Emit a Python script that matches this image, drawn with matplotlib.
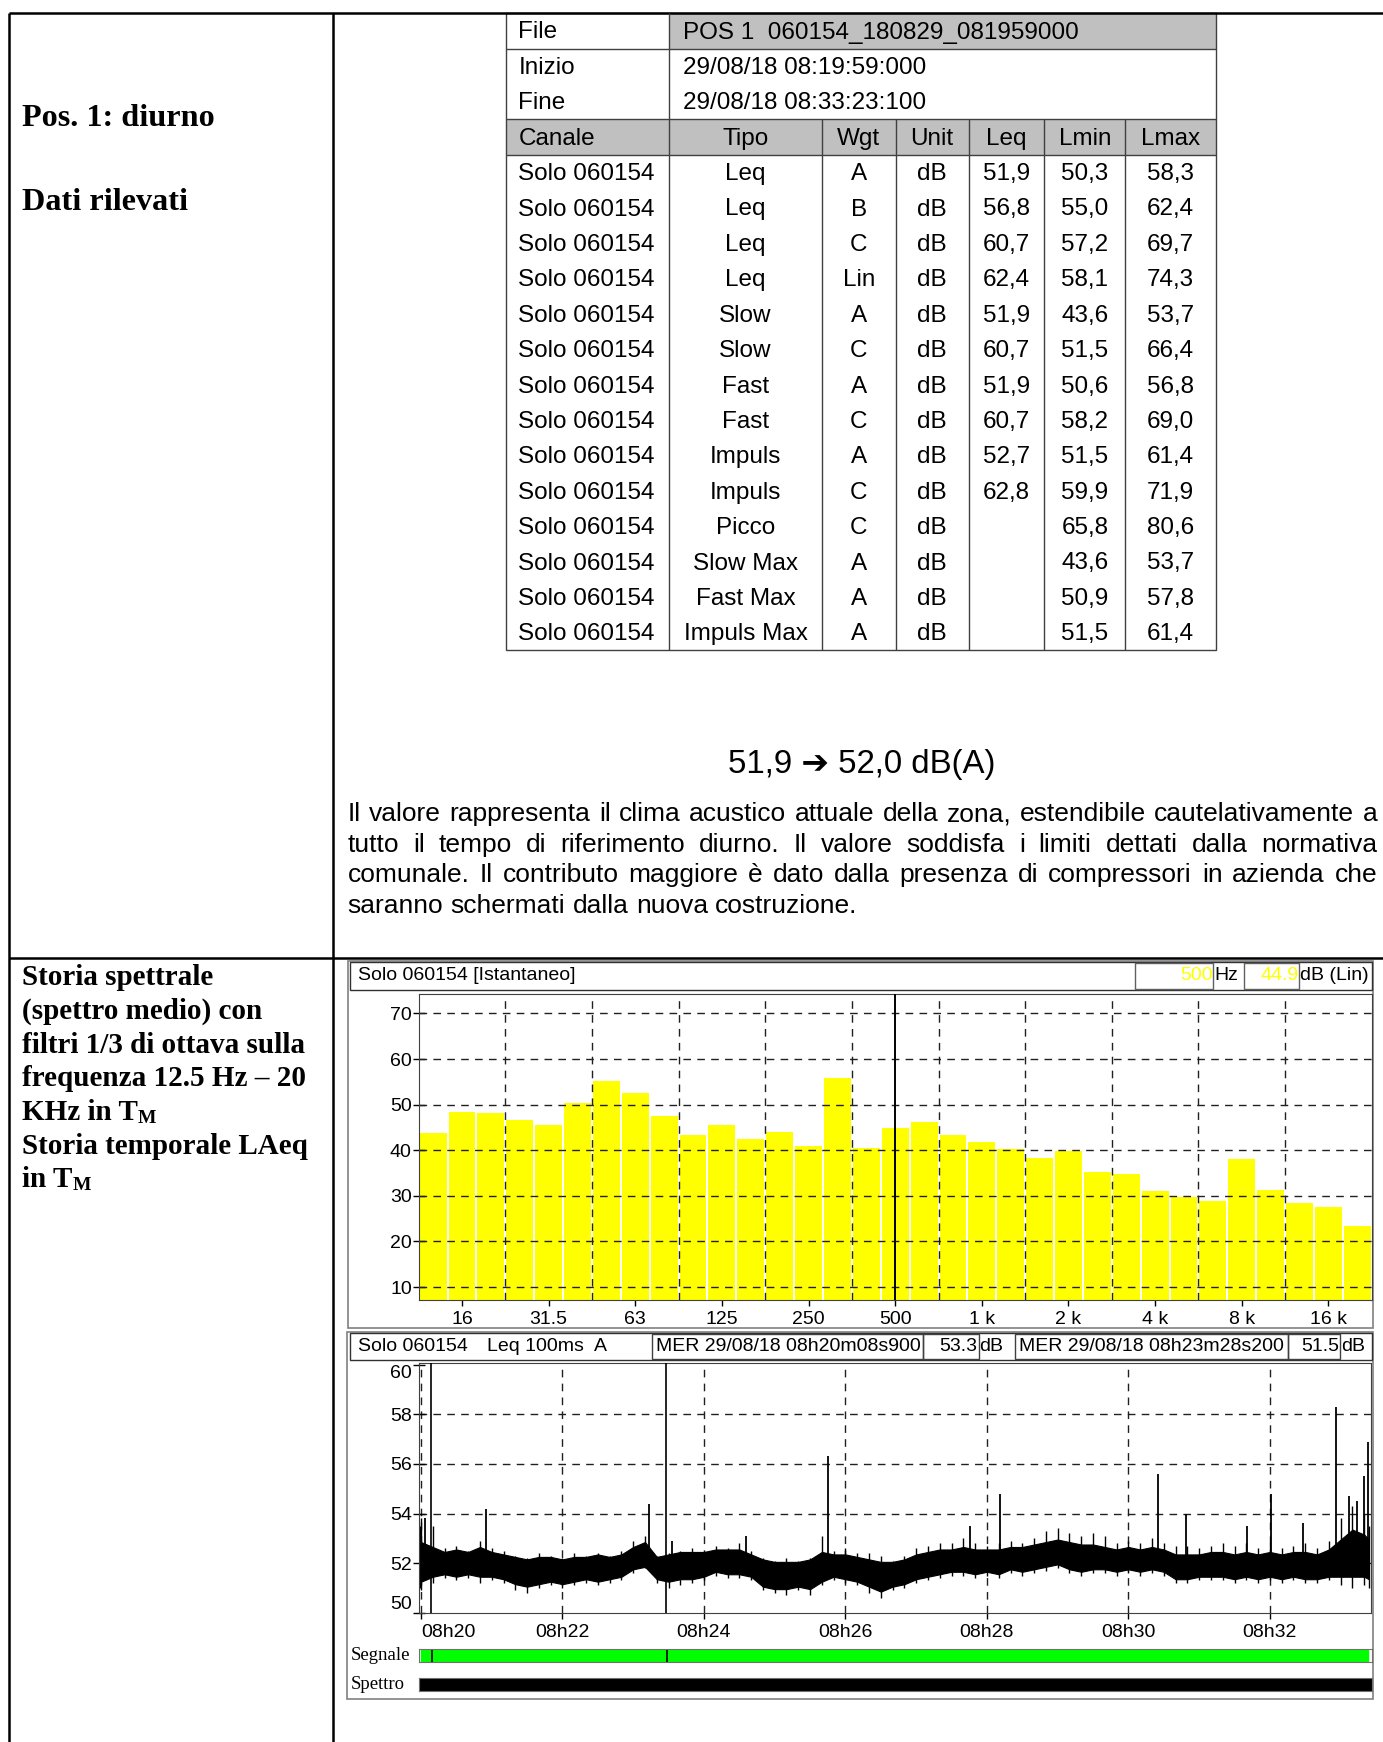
import matplotlib
matplotlib.use('Agg')
import matplotlib.pyplot as plt
from matplotlib.patches import Rectangle
import numpy as np

# ---- data -------------------------------------------------------------
tab_canale = ['Solo 060154'] * 14
tab_tipo = ['Leq', 'Leq', 'Leq', 'Leq', 'Slow', 'Slow', 'Fast', 'Fast',
            'Impuls', 'Impuls', 'Picco', 'Slow Max', 'Fast Max', 'Impuls Max']
tab_wgt = ['A', 'B', 'C', 'Lin', 'A', 'C', 'A', 'C', 'A', 'C', 'C', 'A', 'A', 'A']
tab_unit = ['dB'] * 14
tab_leq = ['51,9', '56,8', '60,7', '62,4', '51,9', '60,7', '51,9', '60,7',
           '52,7', '62,8', '', '', '', '']
tab_lmin = ['50,3', '55,0', '57,2', '58,1', '43,6', '51,5', '50,6', '58,2',
            '51,5', '59,9', '65,8', '43,6', '50,9', '51,5']
tab_lmax = ['58,3', '62,4', '69,7', '74,3', '53,7', '66,4', '56,8', '69,0',
            '61,4', '71,9', '80,6', '53,7', '57,8', '61,4']
tab_header = ['Canale', 'Tipo', 'Wgt', 'Unit', 'Leq', 'Lmin', 'Lmax']

# 1/3 octave spectrum 12.5 Hz .. 20 kHz (dB Lin)
spec_db = [43.7, 48.3, 48.1, 46.6, 45.5, 50.3, 55.1, 52.5, 47.4, 43.3, 45.5,
           42.4, 43.9, 40.9, 55.8, 40.4, 44.9, 46.1, 43.3, 41.8, 40.3, 38.4,
           39.8, 35.2, 34.7, 31.0, 29.7, 28.8, 38.0, 31.2, 28.4, 27.5, 23.4]
spec_tick_idx = [1, 4, 7, 10, 13, 16, 19, 22, 25, 28, 31]
spec_tick_lab = ['16', '31.5', '63', '125', '250', '500', '1 k', '2 k', '4 k', '8 k', '16 k']

# LAeq time history: seconds from 08h20
t_env = [-1, 0, 10, 20, 30, 40, 50, 60, 70, 80, 90, 100, 110, 120, 130, 140,
         150, 160, 170, 180, 190, 200, 210, 220, 230, 240, 250, 260, 270, 280,
         290, 300, 310, 320, 330, 340, 350, 360, 370, 380, 390, 400, 410, 420,
         430, 440, 450, 460, 470, 480, 490, 500, 510, 520, 530, 540, 550, 560,
         570, 580, 590, 600, 610, 620, 630, 640, 650, 660, 670, 680, 690, 700,
         710, 720, 730, 740, 750, 760, 770, 780, 790, 800, 804]
# extremes of the noise band
hi_env = [53.5, 53.8, 53.5, 52.6, 52.7, 52.5, 52.9, 52.6, 52.5, 52.3, 52.2,
          52.4, 52.3, 52.2, 52.4, 52.3, 52.4, 52.3, 52.5, 52.9, 53.1, 52.3,
          52.4, 52.5, 52.6, 52.5, 52.7, 52.6, 52.8, 52.5, 52.2, 52.1, 52.2,
          52.1, 52.2, 53.1, 52.5, 52.6, 52.4, 52.4, 52.3, 52.1, 52.3, 52.6,
          52.7, 52.8, 52.8, 53.0, 52.8, 52.7, 52.8, 52.9, 52.8, 53.0, 53.3,
          53.4, 53.2, 53.1, 53.2, 53.1, 52.8, 52.9, 52.8, 53.0, 52.8, 52.7,
          52.7, 52.6, 52.7, 52.8, 52.7, 52.8, 52.6, 52.8, 52.6, 52.7, 52.8,
          52.6, 52.9, 53.8, 54.3, 54.0, 53.5]
lo_env = [51.0, 50.9, 51.2, 51.4, 51.3, 51.4, 51.2, 51.3, 51.2, 50.9, 50.8,
          51.0, 51.1, 51.0, 51.1, 51.2, 51.1, 51.2, 51.3, 51.6, 51.8, 51.2,
          51.0, 51.1, 51.2, 51.3, 51.5, 51.4, 51.4, 51.3, 50.9, 50.8, 50.7,
          50.9, 50.7, 51.1, 51.3, 51.2, 51.1, 50.8, 50.6, 50.9, 51.0, 51.2,
          51.3, 51.4, 51.5, 51.5, 51.4, 51.5, 51.4, 51.6, 51.5, 51.6, 51.7,
          51.8, 51.6, 51.5, 51.6, 51.6, 51.5, 51.6, 51.5, 51.6, 51.5, 51.2,
          51.2, 51.3, 51.3, 51.3, 51.2, 51.3, 51.2, 51.3, 51.2, 51.3, 51.2,
          51.2, 51.3, 51.1, 51.0, 51.1, 51.0]
# dense core of the band
core_hi = [52.75, 52.85, 52.65, 52.45, 52.55, 52.45, 52.65, 52.45, 52.35, 52.25,
           52.15, 52.25, 52.25, 52.15, 52.25, 52.25, 52.35, 52.25, 52.35, 52.65,
           52.85, 52.25, 52.35, 52.45, 52.45, 52.45, 52.55, 52.55, 52.55, 52.35,
           52.15, 52.05, 52.05, 52.05, 52.15, 52.45, 52.35, 52.35, 52.25, 52.15,
           52.05, 52.05, 52.15, 52.35, 52.45, 52.55, 52.55, 52.65, 52.55, 52.55,
           52.55, 52.65, 52.65, 52.75, 52.85, 52.95, 52.85, 52.75, 52.75, 52.65,
           52.55, 52.65, 52.55, 52.65, 52.55, 52.35, 52.35, 52.35, 52.45, 52.45,
           52.35, 52.45, 52.35, 52.45, 52.35, 52.45, 52.45, 52.35, 52.55, 52.95,
           53.35, 53.15, 52.95]
core_lo = [51.35, 51.25, 51.45, 51.55, 51.45, 51.55, 51.45, 51.45, 51.35, 51.15,
           51.05, 51.15, 51.25, 51.15, 51.25, 51.35, 51.25, 51.35, 51.45, 51.75,
           51.85, 51.35, 51.25, 51.35, 51.35, 51.45, 51.65, 51.55, 51.55, 51.45,
           51.05, 50.95, 50.95, 51.05, 50.95, 51.25, 51.45, 51.35, 51.25, 51.05,
           50.85, 51.05, 51.15, 51.35, 51.45, 51.55, 51.65, 51.65, 51.55, 51.65,
           51.55, 51.75, 51.65, 51.75, 51.85, 51.95, 51.75, 51.65, 51.75, 51.75,
           51.65, 51.75, 51.65, 51.75, 51.65, 51.35, 51.35, 51.45, 51.45, 51.45,
           51.35, 51.45, 51.35, 51.45, 51.35, 51.45, 51.35, 51.35, 51.45, 51.45,
           51.45, 51.45, 51.35]
spike_t = [3, 55, 193, 213, 276, 345, 466, 491, 625, 649, 701, 721, 748,
           776, 787, 794, 800, 803]
spike_db = [53.8, 54.2, 54.4, 52.9, 53.1, 56.3, 53.5, 54.8, 55.6, 54.0,
            53.5, 54.8, 53.6, 58.3, 54.7, 54.5, 55.5, 56.9]
cursor_t = [8.9, 208.2]
time_ticks = [0, 120, 240, 360, 480, 600, 720]
time_labels = ['08h20', '08h22', '08h24', '08h26', '08h28', '08h30', '08h32']

paragraph = [
    'Il valore rappresenta il clima acustico attuale della zona, estendibile cautelativamente a',
    'tutto il tempo di riferimento diurno. Il valore soddisfa i limiti dettati dalla normativa',
    'comunale. Il contributo maggiore è dato dalla presenza di compressori in azienda che',
    'saranno schermati dalla nuova costruzione.',
]
left_lines2 = ['Storia spettrale', '(spettro medio) con', 'filtri 1/3 di ottava sulla',
               'frequenza 12.5 Hz \u2013 20', 'KHz in T', 'Storia temporale LAeq', 'in T']

# ---- page -------------------------------------------------------------
W, H = 1383, 1742
plt.rcParams['font.family'] = 'Liberation Sans'
fig = plt.figure(figsize=(W / 100, H / 100), dpi=100)
bg = fig.add_axes([0, 0, 1, 1])
bg.set_xlim(0, W)
bg.set_ylim(H, 0)
bg.set_autoscale_on(False)
bg.axis('off')
rend = fig.canvas.get_renderer()


def box(x0, y0, x1, y1):
    return [x0 / W, 1 - y1 / H, (x1 - x0) / W, (y1 - y0) / H]


def line(xs, ys, c='black', lw=1.0):
    bg.plot(xs, ys, color=c, lw=lw, solid_capstyle='butt')


def rect(x0, y0, x1, y1, fc='none', ec='#606060', lw=1.0):
    bg.add_patch(Rectangle((x0, y0), x1 - x0, y1 - y0, fc=fc, ec=ec, lw=lw))


# document frame
line([9, W], [13.3, 13.3], lw=1.8)
line([9, 9], [13.3, H], lw=1.8)
line([333, 333], [13.3, H], lw=1.8)
line([9, W], [957.6, 957.6], lw=1.8)

serif_b = dict(family='Liberation Serif', weight='bold', va='center')
bg.text(22, 119, 'Pos. 1: diurno', fontsize=23.2, **serif_b)
bg.text(22, 203, 'Dati rilevati', fontsize=23.2, **serif_b)
for i, s in enumerate(left_lines2):
    y = 977.6 + i * 33.7
    t = bg.text(22, y, s, fontsize=21, **serif_b)
    if s.endswith(' T'):
        wpx = t.get_window_extent(rend).width
        bg.text(22 + wpx, y + 6, 'M', fontsize=14, **serif_b)

# measurement table
tx = [505.5, 668.8, 822.1, 895.5, 968.8, 1044.3, 1125.4, 1215.5]
ty0, rh = 13.3, 35.4
grey = '#c0c0c0'
rect(tx[1], ty0, tx[7], ty0 + rh, fc=grey, ec='none')
rect(tx[0], ty0 + 3 * rh, tx[7], ty0 + 4 * rh, fc=grey, ec='none')
tc = '#404040'
rect(tx[0], ty0, tx[7], ty0 + 18 * rh, ec=tc, lw=1.0)
for k in (1, 3, 4):
    line([tx[0], tx[7]], [ty0 + k * rh] * 2, c=tc)
line([tx[1]] * 2, [ty0, ty0 + 18 * rh], c=tc)
for xv in tx[2:7]:
    line([xv] * 2, [ty0 + 3 * rh, ty0 + 18 * rh], c=tc)

tfs = 17.5
top_rows = [('File', 'POS 1  060154_180829_081959000'),
            ('Inizio', '29/08/18 08:19:59:000'),
            ('Fine', '29/08/18 08:33:23:100')]
for r, (a, b) in enumerate(top_rows):
    yc = ty0 + (r + 0.5) * rh + 1.5
    bg.text(tx[0] + 13, yc, a, fontsize=tfs, va='center')
    bg.text(tx[1] + 14, yc, b, fontsize=tfs, va='center')
yc = ty0 + 3.5 * rh + 1.5
bg.text(tx[0] + 13, yc, tab_header[0], fontsize=tfs, va='center')
for c in range(1, 7):
    bg.text((tx[c] + tx[c + 1]) / 2, yc, tab_header[c], fontsize=tfs, va='center', ha='center')
cols = [tab_tipo, tab_wgt, tab_unit, tab_leq, tab_lmin, tab_lmax]
for r in range(14):
    yc = ty0 + (r + 4.5) * rh + 1.5
    bg.text(tx[0] + 13, yc, tab_canale[r], fontsize=tfs, va='center')
    for c, col in enumerate(cols, start=1):
        bg.text((tx[c] + tx[c + 1]) / 2, yc, col[r], fontsize=tfs, va='center', ha='center')

bg.text(862, 764.5, '51,9 \u2794 52,0 dB(A)', fontsize=23.8, ha='center', va='center',
        family=['Liberation Sans', 'DejaVu Sans'])

# justified paragraph
px0, px1 = 347.7, 1377.4
pfs = 19
for i, s in enumerate(paragraph):
    y = 814 + i * 30.5
    words = s.split()
    arts = [bg.text(0, y, w, fontsize=pfs, va='center') for w in words]
    widths = [a.get_window_extent(rend).width for a in arts]
    if i < len(paragraph) - 1:
        gap = (px1 - px0 - sum(widths)) / (len(words) - 1)
    else:
        gap = pfs * 100 / 72 * 0.278
    x = px0
    for a, w in zip(arts, widths):
        a.set_x(x)
        x += w + gap

# ---- spectrum panel -------------------------------------------------
pc = '#808080'
rect(347.7, 960.7, 1372.7, 1328, ec=pc, lw=1.2)
rect(349.5, 961.5, 1371.5, 989.5, ec='#303030', lw=1.0)
bg.text(357.7, 975.5, 'Solo 060154 [Istantaneo]', fontsize=14, va='center')
rect(1134.7, 962.5, 1213.3, 988.5, ec='#606060', lw=1.0)
rect(1244, 962.5, 1299, 988.5, ec='#606060', lw=1.0)
bg.text(1212.5, 975.5, '500', fontsize=14, va='center', ha='right', color='#ffff00')
bg.text(1214, 975.5, 'Hz', fontsize=14, va='center')
bg.text(1298.5, 975.5, '44.9', fontsize=14, va='center', ha='right', color='#ffff00')
bg.text(1300, 975.5, 'dB (Lin)', fontsize=14, va='center')

dash = (0, (5.5, 4.5))
ax1 = fig.add_axes(box(418.7, 994.3, 1371.7, 1300))
xb = np.arange(len(spec_db))
ax1.bar(xb, spec_db, width=0.93, color='#ffff00', zorder=1)
ax1.set_xlim(-0.5, len(spec_db) - 0.5)
ax1.set_ylim(7.15, 74.2)
for yv in range(10, 80, 10):
    ax1.axhline(yv, color='#202020', lw=1.0, ls=dash, zorder=2)
for xv in np.arange(2.5, len(spec_db) - 1, 3):
    ax1.axvline(xv, color='#202020', lw=1.0, ls=dash, zorder=2)
ax1.axvline(16, color='black', lw=1.4, zorder=3)
ax1.set_yticks(range(10, 80, 10))
ax1.set_xticks(spec_tick_idx)
ax1.set_xticklabels(spec_tick_lab)
ax1.tick_params(axis='y', direction='inout', length=8, width=1, labelsize=14, pad=1)
ax1.tick_params(axis='x', direction='out', length=4, width=1, labelsize=14, pad=4)
for sp in ax1.spines.values():
    sp.set_color('#404040')

# ---- time history panel -----------------------------------------------
rect(347.3, 1332, 1372.7, 1699, ec=pc, lw=1.2)
rect(349.5, 1333, 1371.5, 1360, ec='#303030', lw=1.0)
hy = 1346.5
bg.text(357.7, hy, 'Solo 060154', fontsize=14, va='center')
bg.text(486.6, hy, 'Leq 100ms', fontsize=14, va='center')
bg.text(594.3, hy, 'A', fontsize=14, va='center')
rect(652, 1334, 922.5, 1359, ec='#404040')
rect(922.5, 1334, 978.7, 1359, ec='#404040')
rect(1015.3, 1334, 1288, 1359, ec='#404040')
rect(1288, 1334, 1340, 1359, ec='#404040')
bg.text(656, hy, 'MER 29/08/18 08h20m08s900', fontsize=14, va='center')
bg.text(977.5, hy, '53.3', fontsize=14, va='center', ha='right')
bg.text(979, hy, 'dB', fontsize=14, va='center')
bg.text(1019, hy, 'MER 29/08/18 08h23m28s200', fontsize=14, va='center')
bg.text(1339, hy, '51.5', fontsize=14, va='center', ha='right')
bg.text(1341, hy, 'dB', fontsize=14, va='center')

txlim = (-1.95, 805.5)
ax2 = fig.add_axes(box(418.7, 1363, 1370.7, 1612.7))
ax2.fill_between(t_env, core_lo, core_hi, color='black', lw=0.8, zorder=2)
ax2.vlines(t_env, lo_env, hi_env, color='black', lw=1.0, zorder=2)
ax2.vlines(spike_t, 52.0, spike_db, color='black', lw=1.3, zorder=2)
for yv in (52, 54, 56, 58):
    ax2.axhline(yv, color='#202020', lw=1.0, ls=dash, zorder=1)
for xv in time_ticks:
    ax2.axvline(xv, color='#202020', lw=1.0, ls=dash, zorder=1)
for ct in cursor_t:
    ax2.axvline(ct, color='black', lw=1.2, zorder=3)
ax2.set_xlim(*txlim)
ax2.set_ylim(50, 60.07)
ax2.set_yticks([50, 52, 54, 56, 58, 60])
ax2.set_xticks(time_ticks)
ax2.set_xticklabels(time_labels)
ax2.tick_params(axis='y', direction='inout', length=8, width=1, labelsize=14, pad=1)
ax2.tick_params(axis='x', direction='out', length=4, width=1, labelsize=14, pad=4)
yt = ax2.yaxis.get_major_ticks()
yt[0].label1.set_verticalalignment('bottom')
yt[-1].label1.set_verticalalignment('top')
ax2.xaxis.get_major_ticks()[0].label1.set_horizontalalignment('left')
for sp in ax2.spines.values():
    sp.set_color('#404040')

serif = dict(family='Liberation Serif', va='center', fontsize=13.5)
bg.text(351, 1655.5, 'Segnale', **serif)
bg.text(351, 1684.5, 'Spettro', **serif)

ax3 = fig.add_axes(box(418.7, 1649, 1371.7, 1662.3))
ax3.axvspan(-0.3, 802.4, color='#00ff00')
for ct in cursor_t:
    ax3.axvline(ct, color='black', lw=1.2)
ax4 = fig.add_axes(box(418.7, 1678.3, 1371.7, 1691))
ax4.axvspan(-0.9, txlim[1], color='black')
for a in (ax3, ax4):
    a.set_xlim(*txlim)
    a.set_ylim(0, 1)
    a.set_xticks([])
    a.set_yticks([])
    for sp in a.spines.values():
        sp.set_color('#707070')

fig.savefig('out.png', dpi=100)
